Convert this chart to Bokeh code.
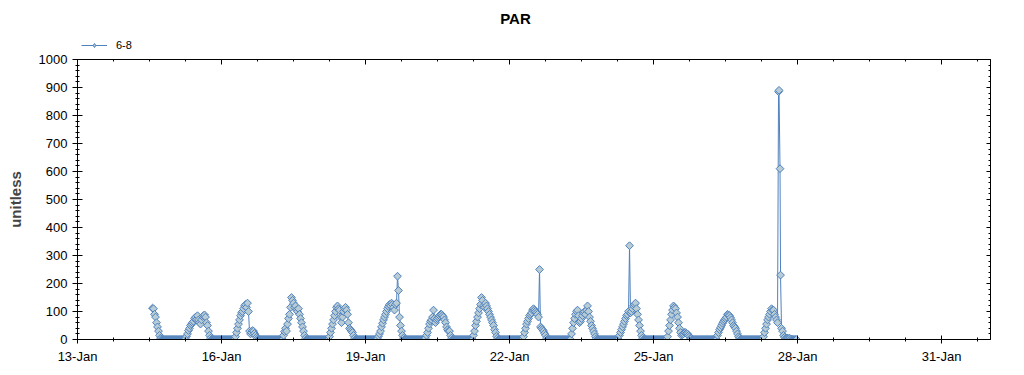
import pandas as pd
from bokeh.plotting import figure
from bokeh.layouts import column
from bokeh.models import (DatetimeAxis, LinearAxis, FixedTicker, DatetimeTickFormatter,
                          Range1d, Legend, LegendItem, CustomJSTickFormatter, ColumnDataSource,
                          Label)
from bokeh.embed import file_html
from bokeh.resources import INLINE

title_text = "PAR"
series_name = "6-8"
y_label = "unitless"

# half-hourly PAR readings (index i = hour i/2) per day; None = no reading
days = ["2015-01-14", "2015-01-15", "2015-01-16", "2015-01-17", "2015-01-18",
        "2015-01-19", "2015-01-20", "2015-01-21", "2015-01-22", "2015-01-23",
        "2015-01-24", "2015-01-25", "2015-01-26", "2015-01-27"]
jan14 = [None, None, None, None, None, None, None, None, None, None, None, None,
         None, None, None, None, None, None, None, None, None, None, None, None,
         None, None, None, 112, 110, 90, 80, 60, 45, 30, 15, 5,
         2, 0, 0, 0, 0, 0, 0, 0, 0, 0, 0, 0]
jan15 = [0, 0, 0, 0, 0, 0, 0, 0, 0, 0, 0, 0,
         5, 12, 20, 32, 40, 50, 55, 60, 65, 75, 80, 72,
         85, 70, 60, 55, 70, 82, 85, 88, 80, 60, 50, 30,
         15, 5, 0, 0, 0, 0, 0, 0, 0, 0, 0, 0]
jan16 = [0, 0, 0, 0, 0, 0, 0, 0, 0, 0, 0, 0,
         0, 0, 10, 25, 40, 55, 70, 85, 95, 100, 110, 120,
         125, 115, 130, 100, 30, 20, 25, 32, 30, 22, 15, 8,
         3, 0, 0, 0, 0, 0, 0, 0, 0, 0, 0, 0]
jan17 = [0, 0, 0, 0, 0, 0, 0, 0, 0, 0, 0, 0,
         0, 0, 15, 28, 40, 30, 55, 75, 90, 115, 150, 140,
         130, 115, 120, 105, 100, 110, 90, 75, 60, 45, 30, 15,
         5, 0, 0, 0, 0, 0, 0, 0, 0, 0, 0, 0]
jan18 = [0, 0, 0, 0, 0, 0, 0, 0, 0, 0, 0, 0,
         10, 25, 40, 55, 70, 85, 100, 115, 120, 110, 105, 80,
         60, 80, 100, 110, 115, 105, 90, 60, 40, 35, 30, 25,
         15, 5, 0, 0, 0, 0, 0, 0, 0, 0, 0, 0]
jan19 = [0, 0, 0, 0, 0, 0, 0, 0, 0, 0, 0, 0,
         5, 12, 20, 30, 45, 58, 70, 80, 90, 100, 110, 118,
         125, 120, 130, 125, 115, 105, 125, 130, 226, 175, 80, 50,
         30, 15, 5, 0, 0, 0, 0, 0, 0, 0, 0, 0]
jan20 = [0, 0, 0, 0, 0, 0, 0, 0, 0, 0, 0, 0,
         5, 15, 25, 40, 55, 65, 70, 80, 105, 75, 60, 70,
         75, 80, 85, 90, 90, 85, 80, 70, 60, 45, 35, 30,
         30, 15, 5, 0, 0, 0, 0, 0, 0, 0, 0, 0]
jan21 = [0, 0, 0, 0, 0, 0, 0, 0, 0, 0, 0, 0,
         15, 30, 50, 65, 80, 95, 110, 125, 150, 140, 120, 115,
         130, 120, 110, 100, 90, 80, 70, 60, 50, 35, 25, 12,
         5, 0, 0, 0, 0, 0, 0, 0, 0, 0, 0, 0]
jan22 = [0, 0, 0, 0, 0, 0, 0, 0, 0, 0, 0, 0,
         0, 0, 10, 25, 40, 55, 65, 75, 85, 90, 95, 105,
         110, 105, 100, 95, 90, 80, 250, 45, 40, 35, 30, 22,
         15, 5, 0, 0, 0, 0, 0, 0, 0, 0, 0, 0]
jan23 = [0, 0, 0, 0, 0, 0, 0, 0, 0, 0, 0, 0,
         0, 0, 20, 40, 60, 75, 90, 100, 105, 85, 60, 65,
         75, 85, 95, 100, 90, 105, 120, 100, 80, 65, 50, 40,
         30, 20, 10, 3, 0, 0, 0, 0, 0, 0, 0, 0]
jan24 = [0, 0, 0, 0, 0, 0, 0, 0, 0, 0, 0, 0,
         0, 0, 15, 25, 35, 45, 55, 65, 75, 85, 90, 100,
         335, 95, 100, 110, 120, 125, 130, 110, 90, 70, 50, 30,
         15, 5, 0, 0, 0, 0, 0, 0, 0, 0, 0, 0]
jan25 = [0, 0, 0, 0, 0, 0, 0, 0, 0, 0, 0, 0,
         0, 0, 10, 30, 50, 70, 90, 105, 120, 115, 110, 95,
         80, 60, 40, 25, 15, 18, 20, 25, 25, 22, 20, 15,
         10, 5, 3, 0, 0, 0, 0, 0, 0, 0, 0, 0]
jan26 = [0, 0, 0, 0, 0, 0, 0, 0, 0, 0, 0, 0,
         0, 0, 0, 0, 15, 25, 35, 42, 50, 58, 65, 70,
         75, 80, 90, 88, 85, 78, 70, 60, 50, 45, 40, 30,
         20, 10, 5, 0, 0, 0, 0, 0, 0, 0, 0, 0]
jan27 = [0, 0, 0, 0, 0, 0, 0, 0, 0, 0, 0, 0,
         0, 0, 10, 25, 40, 55, 70, 80, 90, 100, 110, 105,
         105, 90, 80, 70, 60, 885, None, 230, 40, 30, 15, 8,
         3, 5, 5, 3, 5, 2, 2, 0, 0, 0, 0, 0]
# extra readings inside the 27-Jan spike
spike_times = ["2015-01-27 14:45", "2015-01-27 15:15"]
spike_values = [890, 610]

y_ticks = [0, 100, 200, 300, 400, 500, 600, 700, 800, 900, 1000]

day_values = [jan14, jan15, jan16, jan17, jan18, jan19, jan20, jan21, jan22, jan23,
              jan24, jan25, jan26, jan27]
rows = []
for d, vals in zip(days, day_values):
    base = pd.Timestamp(d)
    for i, v in enumerate(vals):
        if v is not None:
            rows.append((base + pd.Timedelta(minutes=30 * i), v))
for t, v in zip(spike_times, spike_values):
    rows.append((pd.Timestamp(t), v))
df = pd.DataFrame(rows, columns=["t", "v"]).sort_values("t")
src = ColumnDataSource(df)

start = pd.Timestamp("2015-01-13")
end = start + pd.Timedelta(days=19.02)

def ms(ts):
    return ts.value // 10**6

major_x = [ms(start + pd.Timedelta(days=3 * k)) for k in range(7)]
minor_x = [ms(start + pd.Timedelta(hours=18 * k)) for k in range(26)]
minor_y = list(range(0, 1001, 20))

LINE = "#4f81bd"
FILL = "#b8ccd6"
FONT = "Liberation Sans"
W = 1016
HEAD_H = 51
MAIN_H = 316

# ---- header: title + legend ----
h = figure(width=W, height=HEAD_H, x_axis_type=None, y_axis_type=None,
           x_range=Range1d(0, 1), y_range=Range1d(0, 1),
           output_backend="svg", toolbar_location=None, min_border=0)
h.grid.visible = False
h.outline_line_color = None
h.title.text = ""
h.add_layout(Label(x=438, y=HEAD_H - 18, x_units="screen", y_units="screen", text=title_text,
                   text_align="center", text_baseline="middle", text_font=FONT,
                   text_font_size="15px", text_font_style="bold", text_color="black"))
# legend proxies (their only point lies outside the header's visible range)
dl = h.line(x=[5, 6], y=[5, 6], line_color=LINE, line_width=1)
ds = h.scatter(x=[5], y=[5], marker="diamond", size=12,
               fill_color=FILL, line_color=LINE, line_width=1)
legend = Legend(items=[LegendItem(label=series_name, renderers=[dl, ds])],
                location=(4, 0), orientation="horizontal",
                glyph_width=26, glyph_height=10, label_standoff=9,
                label_text_font=FONT, label_text_font_size="11px", label_text_color="black",
                padding=0, margin=0, border_line_color=None, background_fill_alpha=0)
h.add_layout(legend, "center")

# ---- main chart ----
p = figure(width=W, height=MAIN_H, x_axis_type=None, y_axis_type=None,
           x_range=Range1d(start, end), y_range=Range1d(0, 1000),
           output_backend="svg", toolbar_location=None,
           min_border_left=77, min_border_right=26, min_border_top=8, min_border_bottom=28)
p.grid.visible = False
p.outline_line_color = None
p.title.text = ""

xt = FixedTicker(ticks=major_x, minor_ticks=minor_x)
yt = FixedTicker(ticks=y_ticks, minor_ticks=minor_y)
fmt = DatetimeTickFormatter(days="%d-%b", months="%d-%b", hours="%d-%b", years="%d-%b",
                            minutes="%d-%b", hourmin="%d-%b", seconds="%d-%b")
blank = CustomJSTickFormatter(code="return ''")

def style(ax, mi, mo, ni, no):
    ax.axis_line_color = "black"
    ax.major_tick_line_color = "black"
    ax.minor_tick_line_color = "black"
    ax.major_tick_in = mi
    ax.major_tick_out = mo
    ax.minor_tick_in = ni
    ax.minor_tick_out = no
    ax.major_label_text_font = FONT
    ax.major_label_text_font_size = "13px"
    ax.major_label_text_color = "black"

xb = DatetimeAxis(ticker=xt, formatter=fmt)
style(xb, 4, 4, 2, 2)
xb.major_label_standoff = 5
p.add_layout(xb, "below")

yl = LinearAxis(ticker=yt, axis_label=y_label)
style(yl, 5, 5, 2, 2)
yl.major_label_standoff = 5
yl.axis_label_text_font = FONT
yl.axis_label_text_font_style = "bold"
yl.axis_label_text_font_size = "15px"
yl.axis_label_standoff = 12
p.add_layout(yl, "left")

xa = DatetimeAxis(ticker=xt, formatter=blank)
style(xa, 5, 0, 2, 0)
xa.major_label_standoff = 0
xa.major_label_text_font_size = "1px"
p.add_layout(xa, "above")

yr = LinearAxis(ticker=yt, formatter=blank)
style(yr, 4, 0, 2, 0)
yr.major_label_standoff = 0
yr.major_label_text_font_size = "1px"
p.add_layout(yr, "right")

p.line("t", "v", source=src, line_color=LINE, line_width=1)
p.scatter("t", "v", source=src, marker="square", angle=0.785398, size=5.5,
          fill_color=FILL, line_color=LINE, line_width=1)

layout = column(h, p, spacing=0)
open("out.html", "w").write(file_html(layout, INLINE))
